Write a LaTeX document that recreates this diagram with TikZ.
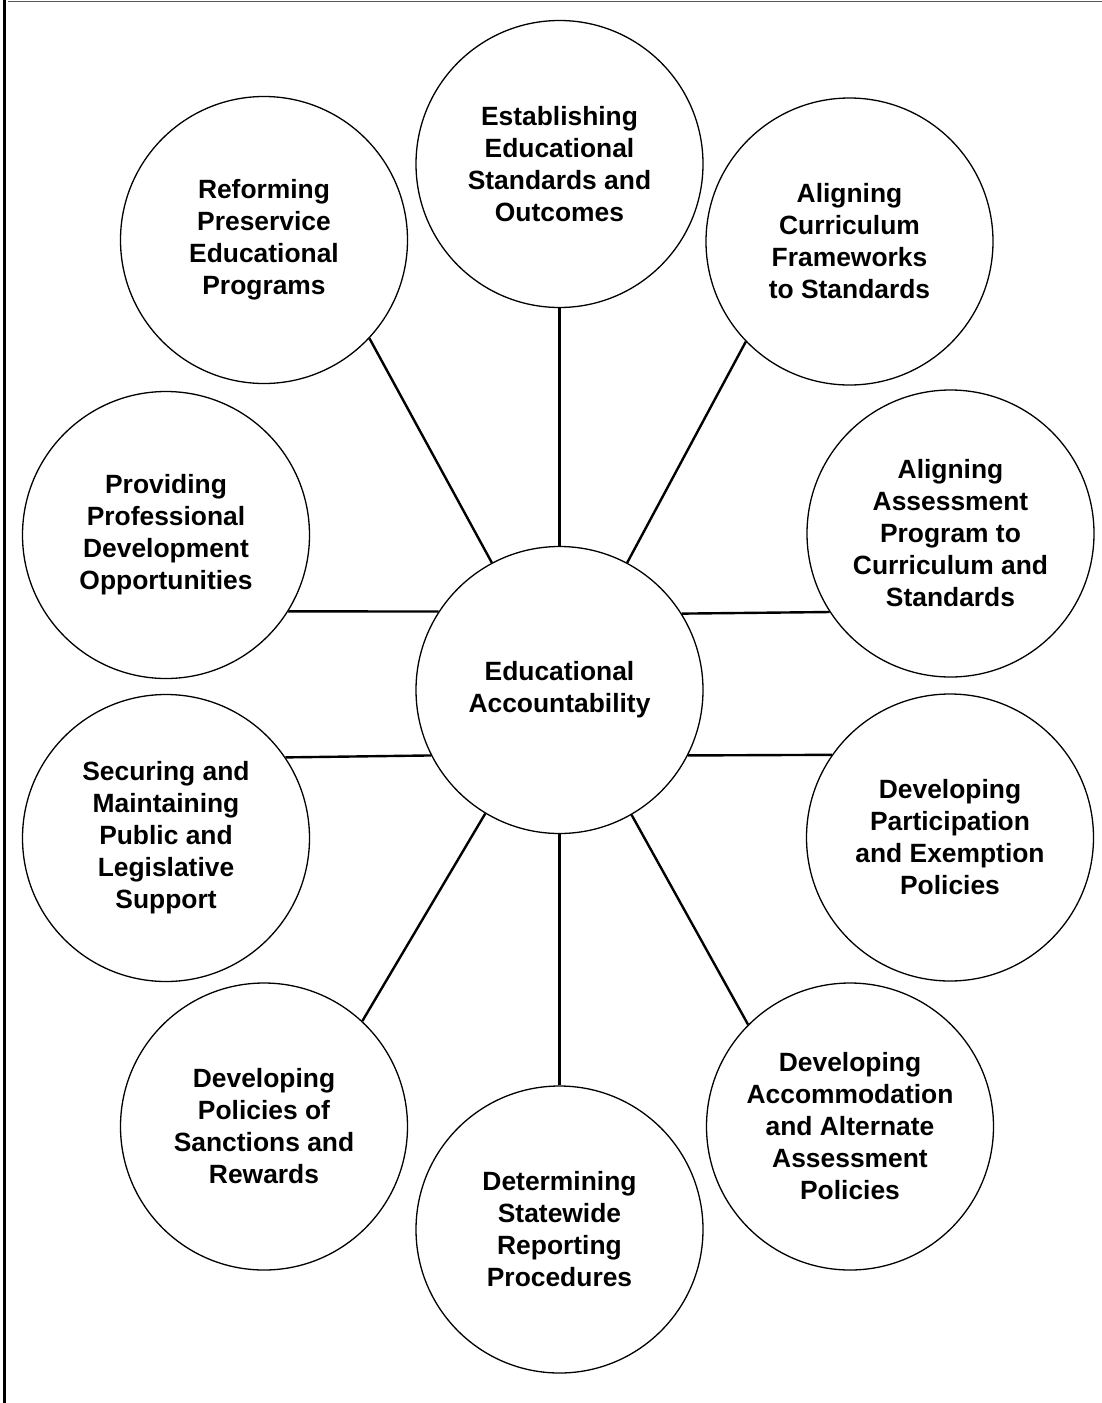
\documentclass[tikz,border=0pt]{standalone}
\usepackage{fontspec}
\setmainfont{Liberation Sans}
\begin{document}
\begin{tikzpicture}[x=0.5pt,y=-0.5pt,
  topic/.style={circle,draw,line width=0.65pt,minimum size=143.5pt,inner sep=0pt,
    align=center,font=\fontsize{13.2}{16}\selectfont\bfseries},
  spoke/.style={line width=1.2pt}]
  \useasboundingbox (0,0) rectangle (1102,1403);
  % frame
  \draw[line width=1.5pt] (4,0) -- (4,1403);
  \draw[line width=0.9pt,black!65] (8,1.5) -- (1102,1.5);

  % hub
  \node[topic] (hub) at (559.5,690) {Educational\\Accountability};

  % surrounding topics
  \node[topic] (estab)  at (559.5,164)   {Establishing\\Educational\\Standards and\\Outcomes};
  \node[topic] (curric) at (849.5,241.5) {Aligning\\Curriculum\\Frameworks\\to Standards};
  \node[topic] (assess) at (950.5,533.5) {Aligning\\Assessment\\Program to\\Curriculum and\\Standards};
  \node[topic] (partic) at (950,837.5)   {Developing\\Participation\\and Exemption\\Policies};
  \node[topic] (accom)  at (850,1126.5)  {Developing\\Accommodation\\and Alternate\\Assessment\\Policies};
  \node[topic] (report) at (559.5,1229.5){Determining\\Statewide\\Reporting\\Procedures};
  \node[topic] (sanct)  at (264,1126.5)  {Developing\\Policies of\\Sanctions and\\Rewards};
  \node[topic] (secur)  at (166,838)     {Securing and\\Maintaining\\Public and\\Legislative\\Support};
  \node[topic] (profdev) at (166,535)    {Providing\\Professional\\Development\\Opportunities};
  \node[topic] (reform) at (264,240)     {Reforming\\Preservice\\Educational\\Programs};

  % connectors
  \draw[spoke] (estab.south) -- (hub.north);
  \draw[spoke] (hub.south) -- (report.north);
  \draw[spoke] (hub.118.7) -- (reform.-43.8);
  \draw[spoke] (hub.62) -- (curric.-136.5);
  \draw[spoke] (hub.239.2) -- (sanct.47);
  \draw[spoke] (hub.-60.6) -- (accom.135);
  \draw[spoke] (profdev.-32.9) -- (hub.147.6);
  \draw[spoke] (hub.32.4) -- (assess.213.6);
  \draw[spoke] (secur.34.4) -- (hub.207.8);
  \draw[spoke] (hub.-27.8) -- (partic.145.9);
\end{tikzpicture}
\end{document}
